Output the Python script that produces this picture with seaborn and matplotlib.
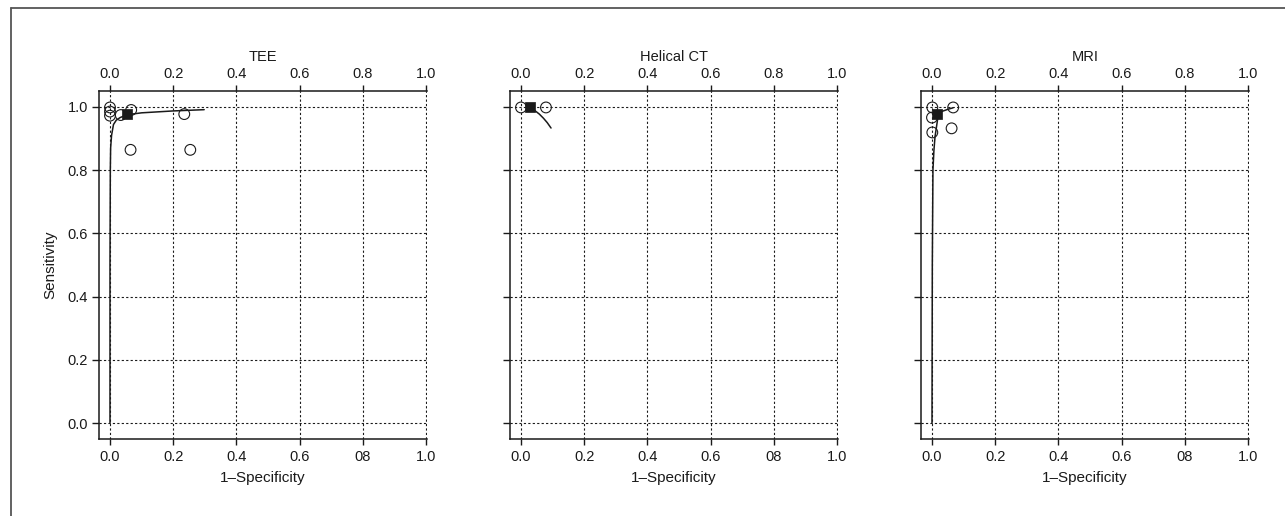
import matplotlib
matplotlib.use("Agg")
import matplotlib.pyplot as plt
from matplotlib.lines import Line2D
import seaborn as sns
import pandas as pd

# ---------------- data ----------------
panel_titles = ["TEE", "Helical CT", "MRI"]

tee_study_x = [0.0, 0.0, 0.0, 0.034, 0.067, 0.235, 0.065, 0.254]
tee_study_y = [0.998, 0.985, 0.972, 0.974, 0.99, 0.977, 0.864, 0.864]
tee_summary_x = [0.054]
tee_summary_y = [0.977]
tee_curve_x = [0.0, 0.0, 0.001, 0.002, 0.005, 0.011, 0.02, 0.032, 0.054, 0.1, 0.2, 0.298]
tee_curve_y = [0.0, 0.5, 0.8, 0.87, 0.91, 0.944, 0.958, 0.966, 0.975, 0.981, 0.987, 0.991]

ct_study_x = [0.0, 0.079]
ct_study_y = [0.998, 0.998]
ct_summary_x = [0.029]
ct_summary_y = [0.998]
ct_curve_x = [0.02, 0.03, 0.044, 0.058, 0.071, 0.083, 0.095]
ct_curve_y = [1.0, 0.997, 0.988, 0.977, 0.964, 0.95, 0.933]

mri_study_x = [0.001, 0.0, 0.001, 0.067, 0.062]
mri_study_y = [0.998, 0.966, 0.919, 0.998, 0.932]
mri_summary_x = [0.017]
mri_summary_y = [0.976]
mri_curve_x = [0.0, 0.001, 0.003, 0.006, 0.0095, 0.019, 0.03, 0.05, 0.067]
mri_curve_y = [0.0, 0.5, 0.8, 0.861, 0.905, 0.969, 0.985, 0.992, 0.997]

tick_values = [0.0, 0.2, 0.4, 0.6, 0.8, 1.0]
top_tick_labels = ["0.0", "0.2", "0.4", "0.6", "0.8", "1.0"]
bottom_tick_labels = ["0.0", "0.2", "0.4", "0.6", "08", "1.0"]
y_tick_labels = ["0.0", "0.2", "0.4", "0.6", "0.8", "1.0"]
x_label = "1\u2013Specificity"
y_label = "Sensitivity"

panels = [
    (tee_study_x, tee_study_y, tee_summary_x, tee_summary_y, tee_curve_x, tee_curve_y),
    (ct_study_x, ct_study_y, ct_summary_x, ct_summary_y, ct_curve_x, ct_curve_y),
    (mri_study_x, mri_study_y, mri_summary_x, mri_summary_y, mri_curve_x, mri_curve_y),
]

# ---------------- style ----------------
sns.set_theme(style="ticks")
plt.rcParams["font.family"] = ["Liberation Sans", "DejaVu Sans"]
ink = "#1a1a1a"

W, H = 1285, 516
fig = plt.figure(figsize=(W / 100, H / 100), dpi=100)

ax_left_px = [99, 510, 921]
ax_w_px = 328
ax_top_px, ax_bot_px = 91, 439

for i, (sx, sy, mx, my, cx, cy) in enumerate(panels):
    ax = fig.add_axes([ax_left_px[i] / W, 1 - ax_bot_px / H,
                       ax_w_px / W, (ax_bot_px - ax_top_px) / H])
    ax.set_xlim(-0.0348, 1.003)
    ax.set_ylim(-0.05, 1.05)

    curve = pd.DataFrame({"x": cx, "y": cy})
    studies = pd.DataFrame({"x": sx, "y": sy})
    summary = pd.DataFrame({"x": mx, "y": my})

    sns.lineplot(data=curve, x="x", y="y", ax=ax, sort=False, estimator=None,
                 color=ink, linewidth=1.1, zorder=3)
    sns.scatterplot(data=studies, x="x", y="y", ax=ax, marker="o", s=60,
                    facecolor="none", edgecolor=ink, linewidth=0.8, zorder=4)
    sns.scatterplot(data=summary, x="x", y="y", ax=ax, marker="s", s=48,
                    color=ink, edgecolor=ink, linewidth=0.5, zorder=5)

    ax.grid(True, linestyle=(0, (2, 2)), color=ink, linewidth=0.8)
    ax.set_axisbelow(True)

    for side in ["left", "bottom"]:
        ax.spines[side].set_color(ink)
        ax.spines[side].set_linewidth(1.1)
    ax.spines["right"].set_visible(False)
    ax.spines["top"].set_visible(False)

    ax.set_xticks(tick_values, labels=bottom_tick_labels)
    ax.set_yticks(tick_values, labels=y_tick_labels)
    ax.tick_params(axis="x", direction="out", length=4, width=1.0, color=ink,
                   labelsize=10.5, labelcolor=ink, pad=4)
    ax.tick_params(axis="y", direction="out", length=5, width=1.0, color=ink,
                   labelsize=10.5, labelcolor=ink, pad=3)
    if i > 0:
        ax.tick_params(axis="y", labelleft=False)

    sec = ax.secondary_xaxis("top")
    sec.set_xticks(tick_values, labels=top_tick_labels)
    sec.tick_params(axis="x", direction="out", length=4, width=1.0, color=ink,
                    labelsize=10.5, labelcolor=ink, pad=3)
    sec.spines["top"].set_color(ink)
    sec.spines["top"].set_linewidth(1.1)

    ax.set_title(panel_titles[i], fontsize=10.5, color=ink,
                 y=(ax_bot_px - 64) / (ax_bot_px - ax_top_px), pad=0, va="bottom")

    ax.set_xlabel(x_label, fontsize=11, color=ink)
    ax.xaxis.set_label_coords(0.5, -0.093)
    if i == 0:
        ax.set_ylabel(y_label, fontsize=11, color=ink)
        ax.yaxis.set_label_coords(-0.128, 0.5)
    else:
        ax.set_ylabel("")

# outer frame (top and left edges visible)
fig.add_artist(Line2D([11 / W, 11 / W], [0, 1 - 8 / H], transform=fig.transFigure,
                      color="#555555", linewidth=1.3))
fig.add_artist(Line2D([11 / W, 1], [1 - 8 / H, 1 - 8 / H], transform=fig.transFigure,
                      color="#555555", linewidth=1.3))

fig.savefig("out.png", dpi=100)
